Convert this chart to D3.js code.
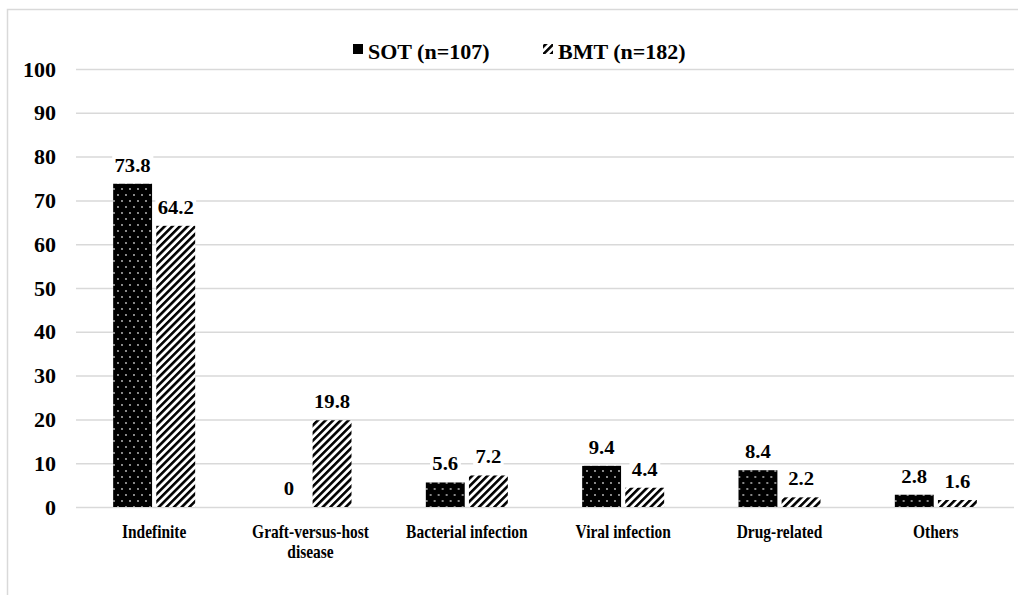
<!DOCTYPE html>
<html><head><meta charset="utf-8">
<script src="https://cdn.jsdelivr.net/npm/d3@7"></script>
<style>
body{margin:0;background:#fff;}
svg{display:block;}
text{font-family:"Liberation Serif","Times New Roman",serif;font-weight:bold;fill:#000;}
</style>
</head><body><svg id="c" width="1018" height="595"></svg>
<script>
const categories = ["Indefinite","Graft-versus-host\ndisease","Bacterial infection","Viral infection","Drug-related","Others"];
const series = ["SOT (n=107)","BMT (n=182)"];
const sotValues = [73.8,0,5.6,9.4,8.4,2.8];
const bmtValues = [64.2,19.8,7.2,4.4,2.2,1.6];
const yTicks = [0,10,20,30,40,50,60,70,80,90,100];

(function(){
const svg = d3.select("#c");
const mLeft = 76, mRight = 1014, mTop = 69, mBottom = 507;

// outer frame
svg.append("rect").attr("x",7.5).attr("y",9.5).attr("width",1030).attr("height",620)
  .attr("fill","none").attr("stroke","#d9d9d9").attr("stroke-width",1.5);

const defs = svg.append("defs");
const dots = defs.append("pattern").attr("id","dots").attr("patternUnits","userSpaceOnUse")
  .attr("width",8).attr("height",12);
dots.append("rect").attr("width",8).attr("height",12).attr("fill","#000");
dots.append("circle").attr("cx",2).attr("cy",3).attr("r",0.9).attr("fill","#c8c8c8");
dots.append("circle").attr("cx",6).attr("cy",9).attr("r",0.9).attr("fill","#c8c8c8");

const hatch = defs.append("pattern").attr("id","hatch").attr("patternUnits","userSpaceOnUse")
  .attr("width",5.4).attr("height",5.4).attr("patternTransform","rotate(45)");
hatch.append("rect").attr("width",5.4).attr("height",5.4).attr("fill","#fff");
hatch.append("rect").attr("x",0).attr("y",0).attr("width",2.6).attr("height",5.4).attr("fill","#000");

const fills = ["url(#dots)","url(#hatch)"];

const y = d3.scaleLinear().domain([0,100]).range([mBottom,mTop]);
const x = d3.scaleBand().domain(categories).range([mLeft,mRight]).paddingInner(0).paddingOuter(0);
const bw = x.bandwidth();
const xs = d3.scaleBand().domain(series).range([bw/2 - 41, bw/2 + 41]).paddingInner(8/82).paddingOuter(0);

// y axis with gridlines
const yAxis = svg.append("g").attr("transform",`translate(${mLeft},0)`)
  .call(d3.axisLeft(y).tickValues(yTicks).tickSize(-(mRight-mLeft)).tickPadding(20));
yAxis.select(".domain").remove();
yAxis.selectAll(".tick line").attr("stroke","#d9d9d9").attr("stroke-width",1.5);
yAxis.selectAll(".tick text").attr("font-size",20).attr("font-family",null)
  .attr("transform","scale(1.1,1)").attr("x",-20/1.1).attr("dy","0.35em");

// bars
const data = categories.map((c,i)=>({cat:c, vals:[sotValues[i], bmtValues[i]]}));
const groups = svg.append("g").selectAll("g").data(data).join("g")
  .attr("transform",d=>`translate(${x(d.cat)},0)`);
groups.selectAll("rect").data(d=>d.vals.map((v,j)=>({s:series[j], v, j})))
  .join("rect")
  .attr("x",d=>xs(d.s)).attr("width",xs.bandwidth())
  .attr("y",d=>y(d.v)).attr("height",d=>y(0)-y(d.v))
  .attr("fill",d=>fills[d.j]);

// value labels
groups.each(function(d){
  const g = d3.select(this);
  d.vals.forEach((v,j)=>{
    const cx = xs(series[j]) + xs.bandwidth()/2;
    const lg = g.append("g").attr("transform",`translate(${cx},${y(v)-12}) scale(1.15,1)`);
    const t = lg.append("text").attr("text-anchor","middle").attr("font-size",18).text(v);
    const b = t.node().getBBox();
    lg.insert("rect","text").attr("x",b.x-2).attr("y",b.y).attr("width",b.width+4).attr("height",b.height)
      .attr("fill","#fff");
  });
});

// x axis labels
const xAxis = svg.append("g").attr("transform",`translate(0,${mBottom})`)
  .call(d3.axisBottom(x).tickSize(0).tickPadding(0));
xAxis.select(".domain").remove();
xAxis.selectAll(".tick text").each(function(d){
  const t = d3.select(this);
  t.text(null).attr("font-size",18).attr("font-family",null).attr("y",0).attr("dy",null)
   .attr("transform","scale(0.86,1)");
  d.split("\n").forEach((line,k)=>{
    t.append("tspan").attr("x",0).attr("y",31 + k*20).text(line);
  });
});

// legend
const legend = svg.append("g");
const lx = [353, 543];
series.forEach((s,j)=>{
  legend.append("rect").attr("x",lx[j]).attr("y",44).attr("width",10).attr("height",10)
    .attr("fill", j===0 ? "#000" : "url(#hatch)");
  legend.append("text").attr("x",lx[j]+15).attr("y",59).attr("font-size",22).text(s);
});
})();
</script>
</body></html>
